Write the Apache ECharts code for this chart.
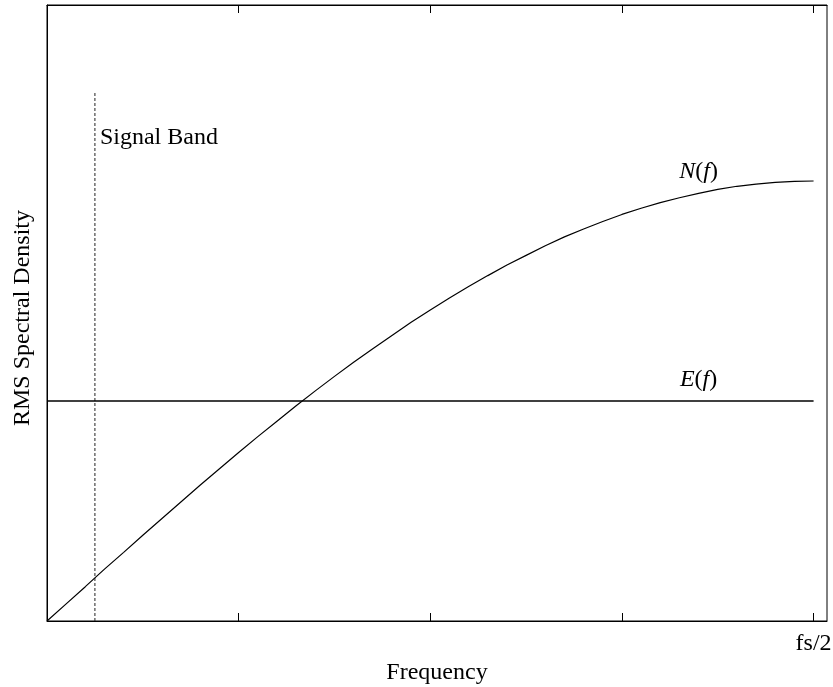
<!DOCTYPE html>
<html>
<head>
<meta charset="utf-8">
<script src="https://cdn.jsdelivr.net/npm/echarts@6/dist/echarts.min.js"></script>
<style>html,body{margin:0;padding:0;background:#fff}#c{width:833px;height:687px}</style>
</head>
<body>
<div id="c"></div>
<script>
// Frequency samples (fs/2 = 4)
var freq = [0,0.1,0.2,0.3,0.4,0.5,0.6,0.7,0.8,0.9,1.0,1.1,1.2,1.3,1.4,1.5,1.6,1.7,1.8,1.9,2.0,2.1,2.2,2.3,2.4,2.5,2.6,2.7,2.8,2.9,3.0,3.1,3.2,3.3,3.4,3.5,3.6,3.7,3.8,3.9,4.0];
// N(f) noise spectral density
var noise = [0,0.039,0.078,0.118,0.156,0.195,0.233,0.271,0.309,0.346,0.383,0.419,0.454,0.489,0.523,0.556,0.588,0.619,0.649,0.679,0.707,0.734,0.760,0.785,0.809,0.831,0.853,0.873,0.891,0.908,0.924,0.938,0.951,0.962,0.972,0.981,0.988,0.993,0.997,0.999,1.0];
// E(f) flat level
var errorLevel = 0.5;
var eFreq = [0, 4];
// Signal band edge
var bandEdge = 0.25;
var bandTop = 1.2;
var xTicks = [0, 1, 2, 3, 4];
var xTickLabels = ['', '', '', '', 'fs/2'];

var FONT = "'Liberation Serif','Times New Roman',serif";
var FS = 24;
var chart = echarts.init(document.getElementById('c'), null, {renderer: 'canvas'});

var nData = freq.map(function (f, i) { return [f, noise[i]]; });
var eData = eFreq.map(function (f) { return [f, errorLevel]; });

var option = {
  animation: false,
  backgroundColor: '#fff',
  grid: {left: 47, right: 6, top: 5, bottom: 66, show: true, borderColor: '#000', borderWidth: 1,
    containLabel: false, outerBoundsMode: 'none'},
  xAxis: [{
    type: 'value', min: 0, max: 4.07, interval: 1, position: 'bottom',
    splitLine: {show: false},
    axisLine: {show: true, lineStyle: {color: '#000', width: 1}},
    axisTick: {show: true, inside: true, length: 8, lineStyle: {color: '#000', width: 1},
      customValues: xTicks},
    axisLabel: {show: true, color: '#000', fontFamily: FONT, fontSize: FS, margin: 11,
      customValues: xTicks,
      formatter: function (v) { var i = xTicks.indexOf(v); return i >= 0 ? xTickLabels[i] : ''; }},
    name: 'Frequency', nameLocation: 'middle', nameGap: 37,
    nameTextStyle: {color: '#000', fontFamily: FONT, fontSize: FS}
  }, {
    type: 'value', min: 0, max: 4.07, interval: 1, position: 'top',
    splitLine: {show: false},
    axisLine: {show: true, lineStyle: {color: '#000', width: 1}},
    axisTick: {show: true, inside: true, length: 8, lineStyle: {color: '#000', width: 1},
      customValues: xTicks},
    axisLabel: {show: false}
  }],
  yAxis: [{
    type: 'value', min: 0, max: 1.4, position: 'left',
    splitLine: {show: false},
    axisLine: {show: true, lineStyle: {color: '#000', width: 1}},
    axisTick: {show: false}, axisLabel: {show: false},
    name: 'RMS Spectral Density', nameLocation: 'middle', nameGap: 12,
    nameTextStyle: {color: '#000', fontFamily: FONT, fontSize: FS, padding: [0, 10, 0, 0]}
  }],
  series: [{
    type: 'line', data: nData, showSymbol: false, symbol: 'none',
    lineStyle: {color: '#000', width: 1.2}, z: 3
  }, {
    type: 'line', data: eData, showSymbol: false, symbol: 'none',
    lineStyle: {color: '#000', width: 1.3}, z: 3
  }, {
    type: 'line', data: [[bandEdge, 0], [bandEdge, bandTop]], showSymbol: false, symbol: 'none',
    lineStyle: {color: '#222', width: 1, type: [3, 2]}, z: 2
  }]
};
chart.setOption(option);

function px(p) { return chart.convertToPixel({xAxisIndex: 0, yAxisIndex: 0}, p); }
var rich = {
  i: {fontFamily: FONT, fontSize: FS, fontStyle: 'italic', fill: '#000'},
  r: {fontFamily: FONT, fontSize: FS, fill: '#000'}
};
var sb = px([bandEdge, bandTop]);
var nLab = px([3.4, 1.0]);
var eLab = px([3.4, errorLevel]);
chart.setOption({
  graphic: [
    {type: 'text', x: sb[0] + 5, y: 138, style: {text: 'Signal Band', font: FS + 'px ' + FONT, fill: '#000', verticalAlign: 'middle', align: 'left'}},
    {type: 'text', x: nLab[0], y: 172, style: {text: '{i|N}{r|(}{i|f}{r|)}', rich: rich, align: 'center', verticalAlign: 'middle'}},
    {type: 'text', x: eLab[0], y: 380, style: {text: '{i|E}{r|(}{i|f}{r|)}', rich: rich, align: 'center', verticalAlign: 'middle'}}
  ]
});
</script>
</body>
</html>
